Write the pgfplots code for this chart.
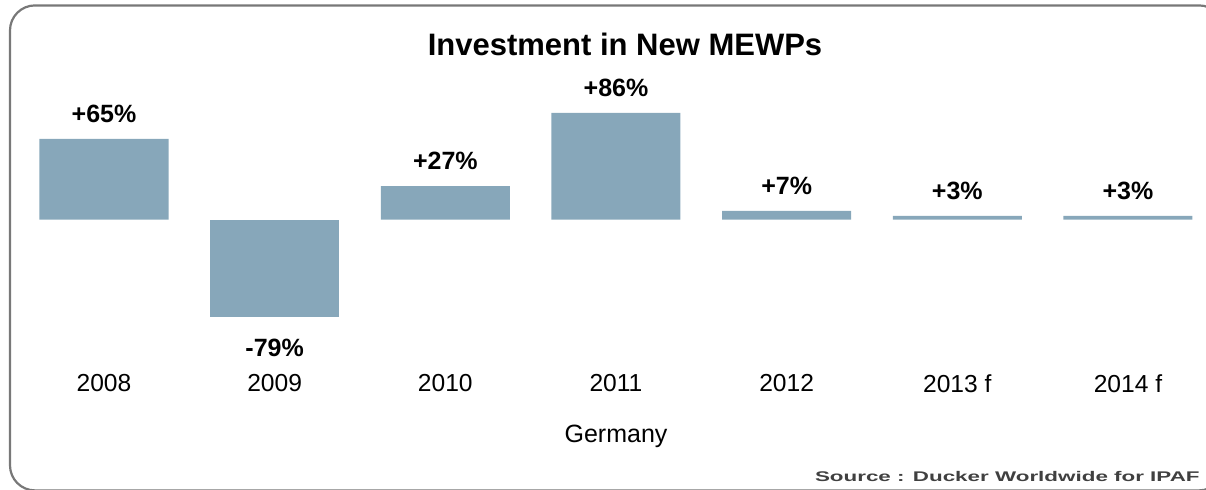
\documentclass[border=0pt]{standalone}
\usepackage{fontspec}
\setmainfont{Liberation Sans}
\usepackage{pgfplots}
\pgfplotsset{compat=1.18}
\definecolor{barblue}{RGB}{135,167,186}
\definecolor{framegray}{RGB}{120,120,120}
\begin{document}
\begin{tikzpicture}[x=1pt,y=1pt]
\useasboundingbox (0,0) rectangle (603,-244.5);
\draw[framegray, line width=1.1pt, rounded corners=12.5pt] (5,-2.7) rectangle (612,-245.2);
\begin{axis}[
  at={(52pt,-109.75pt)}, anchor=origin,
  scale only axis, width=580.25pt, height=124pt,
  xmin=-0.4, xmax=6.4, ymin=-100, ymax=100,
  ybar, bar width=64.5pt, bar shift=0pt,
  axis line style={draw=none},
  ytick=\empty,
  xtick={0,1,2,3,4,5,6},
  xticklabels={2008,2009,2010,2011,2012,2013 f,2014 f},
  major tick length=0pt,
  xticklabel style={font=\fontsize{12.3}{14}\selectfont, yshift=-12pt},
  point meta=explicit symbolic,
  nodes near coords,
  every node near coord/.append style={font=\fontsize{12.5}{14}\selectfont\bfseries},
  clip=false,
]
\addplot[fill=barblue, draw=none, every node near coord/.append style={inner sep=0pt, yshift=8pt}]
  coordinates {(0,65) [+65\%] (2,27) [+27\%] (3,86) [+86\%] (4,7) [+7\%] (5,3) [+3\%] (6,3) [+3\%]};
\addplot[fill=barblue, draw=none, every node near coord/.append style={inner sep=0pt, yshift=-20pt}]
  coordinates {(1,-79) [-79\%]};
\end{axis}
\node[font=\fontsize{15.5}{18}\selectfont\bfseries] at (312.5,-22) {Investment in New MEWPs};
\node[font=\fontsize{12.5}{14}\selectfont] at (308,-218) {Germany};
\node[anchor=east, text=black!75, inner sep=0pt] at (600,-238) {\scalebox{1.6}[1]{\fontsize{7}{8}\selectfont\bfseries Source : Ducker Worldwide for IPAF}};
\end{tikzpicture}
\end{document}
